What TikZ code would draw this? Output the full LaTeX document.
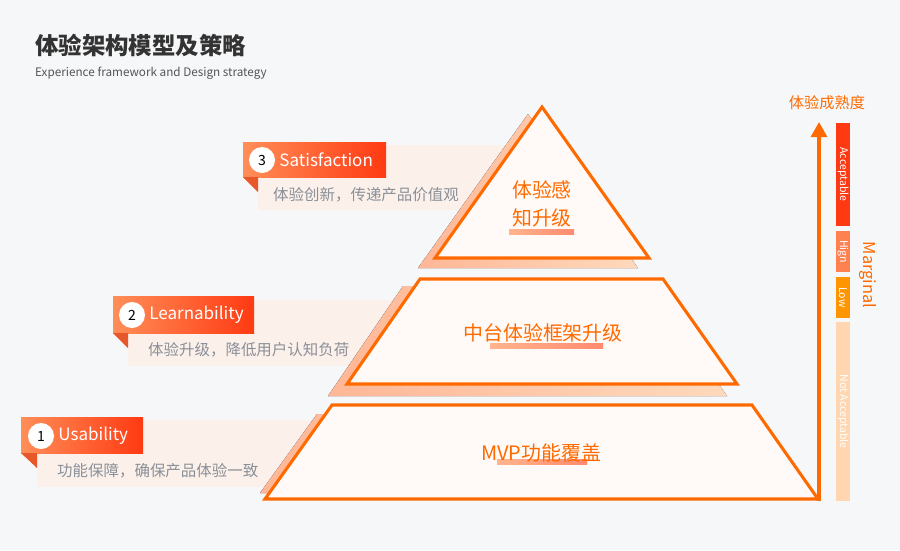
\documentclass[tikz,border=0pt]{standalone}
\usepackage{fontspec}
\setmainfont{Noto Sans CJK SC}
\usetikzlibrary{arrows.meta, backgrounds, positioning}
\definecolor{pagebg}{HTML}{F6F7F9}
\definecolor{titlegray}{HTML}{333333}
\definecolor{subgray}{HTML}{555555}
\definecolor{notegray}{HTML}{8A8F99}
\definecolor{brandorange}{HTML}{FF6A00}
\definecolor{layerfill}{HTML}{FFFAF7}
\definecolor{shadeleft}{HTML}{FFB797}
\definecolor{shaderight}{HTML}{FFD9BC}
\definecolor{tagleft}{HTML}{FF8E58}
\definecolor{tagright}{HTML}{FF3A12}
\definecolor{tagfoldcol}{HTML}{E8572A}
\definecolor{notefill}{HTML}{FCF1EA}
\definecolor{markleft}{HTML}{FFB48C}
\definecolor{markright}{HTML}{FF8A70}
\definecolor{levelacc}{HTML}{FF3A12}
\definecolor{levelhigh}{HTML}{FF8150}
\definecolor{levellow}{HTML}{FF9500}
\definecolor{levelnot}{HTML}{FFD6B0}
\tikzset{
  layer/.style={fill=layerfill, draw=brandorange, line width=2.6pt, line join=miter},
  layershade/.style={left color=shadeleft, right color=shaderight, draw=none},
  tagbar/.style={left color=tagleft, right color=tagright, draw=none},
  tagfold/.style={fill=tagfoldcol, draw=none},
  notebox/.style={fill=notefill, draw=none},
  markline/.style={left color=markleft, right color=markright, draw=none},
  num/.style={circle, fill=white, minimum size=0.78cm, inner sep=0pt, font=\fontsize{12}{14}\selectfont, text=black},
  tagtext/.style={anchor=west, inner sep=0pt, text=white, font=\fontsize{14.5}{17}\selectfont},
  note/.style={anchor=west, inner sep=0pt, text=notegray, font=\fontsize{13.2}{16}\selectfont},
  layertext/.style={align=center, inner sep=0pt, text=brandorange, font=\fontsize{17}{24}\selectfont},
  level/.style={rectangle, rotate=-90, minimum height=0.42cm, inner sep=0pt, text=white, font=\fontsize{9}{10}\selectfont},
  axis/.style={-{Triangle[length=4.5mm, width=4.8mm]}, line width=2.6pt, draw=brandorange},
  axis-title/.style={inner sep=0pt, text=brandorange, font=\fontsize{13}{15}\selectfont}
}
\begin{document}
\begin{tikzpicture}[x=0.03cm, y=-0.03cm]

\begin{pgfonlayer}{background}
  \fill[pagebg] (0,0) rectangle (900,550);
\end{pgfonlayer}
\useasboundingbox (0,0) rectangle (900,550);

\node[anchor=west, inner sep=0pt, text=titlegray, font=\fontsize{20}{24}\selectfont\bfseries] (title) at (35,45) {体验架构模型及策略};
\node[anchor=west, inner sep=0pt, text=subgray, font=\fontsize{10}{12}\selectfont] (subtitle) at (35,73) {Experience framework and Design strategy};

\fill[notebox] (258,145) rectangle (515,210);
\fill[notebox] (128,300) rectangle (410,366);
\fill[notebox] (37,420) rectangle (320,487);

\fill[layershade] (528,114) -- (638,268) -- (418,268) -- cycle;
\fill[layershade] (403,286) -- (649,286) -- (727,396) -- (328,396) -- cycle;
\fill[layershade] (317,414) -- (740,414) -- (800,493) -- (260,493) -- cycle;

\draw[layer] (542,107) -- (649,258) -- (435,258) -- cycle;
\draw[layer] (420,279) -- (663,279) -- (737,384) -- (347,384) -- cycle;
\draw[layer] (332,405) -- (752,405) -- (818,499) -- (265,499) -- cycle;

\fill[markline] (509,229) rectangle (574,234);
\fill[markline] (490,343) rectangle (603,348);
\fill[markline] (497,459) rectangle (587,464);

\node[layertext] (top) at (542,204) {体验感\\知升级};
\node[layertext] (middle) at (543,333) {中台体验框架升级};
\node[layertext] (bottom) at (541,453) {MVP功能覆盖};

\fill[tagbar] (243,142) rectangle (386,177);
\fill[tagfold] (243,177) -- (258,177) -- (258,192) -- cycle;
\node[num] (num3) at (262,160) {3};
\node[tagtext, right=0.12cm of num3] (satisfaction) {Satisfaction};
\node[note] (note3) at (273,195) {体验创新，传递产品价值观};

\fill[tagbar] (113,296) rectangle (254,333);
\fill[tagfold] (113,333) -- (128,333) -- (128,348) -- cycle;
\node[num] (num2) at (132,315) {2};
\node[tagtext, right=0.12cm of num2] (learnability) {Learnability};
\node[note] (note2) at (148,350) {体验升级，降低用户认知负荷};

\fill[tagbar] (21,417) rectangle (143,453);
\fill[tagfold] (21,453) -- (37,453) -- (37,468) -- cycle;
\node[num] (num1) at (41,436) {1};
\node[tagtext, right=0.12cm of num1] (usability) {Usability};
\node[note] (note1) at (57,471) {功能保障，确保产品体验一致};

\coordinate (axisbot) at (819,501);
\coordinate (axistop) at (819,122);
\draw[axis] (axisbot) -- (axistop);
\node[axis-title] (maturity) at (827,103) {体验成熟度};

\node[level, fill=levelacc, minimum width=3.09cm] (acceptable) at (843,174.5) {Acceptable};
\node[level, fill=levelhigh, minimum width=1.23cm] (high) at (843,251.5) {Hign};
\node[level, fill=levellow, minimum width=1.23cm] (low) at (843,297.5) {Low};
\node[level, fill=levelnot, minimum width=5.37cm] (notacc) at (843,411.5) {Not Acceptable};
\node[axis-title, font=\fontsize{14}{16}\selectfont, rotate=-90] (marginal) at (868,275) {Marginal};

\end{tikzpicture}
\end{document}
